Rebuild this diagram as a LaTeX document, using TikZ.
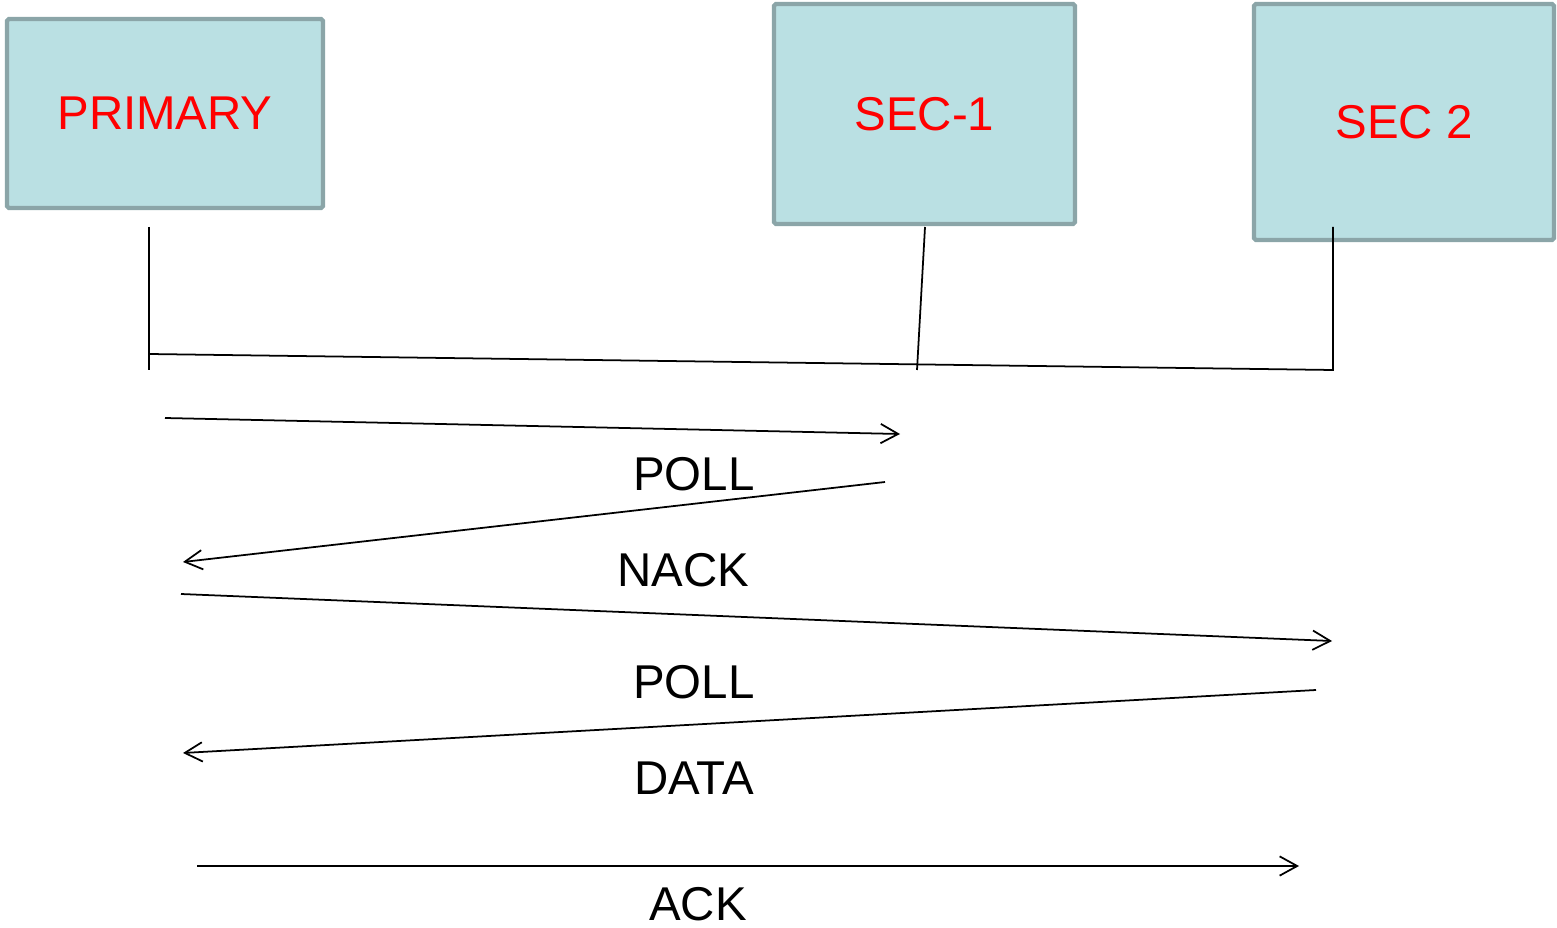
\documentclass[tikz,border=0pt]{standalone}
\usepackage{fontspec}
\setmainfont{Liberation Sans}
\usepackage{xcolor}
\usetikzlibrary{positioning,arrows.meta}
\definecolor{boxfill}{HTML}{BAE0E3}
\definecolor{boxline}{HTML}{8BA5A8}
\tikzset{
station/.style={draw=boxline, fill=boxfill, line width=2.4pt, rounded corners=1pt, text=red, font=\fontsize{27}{31}\selectfont},
wire/.style={line width=1pt},
msg/.style={line width=1pt, -{Straight Barb[length=10pt,width=11pt,line width=1pt]}},
frame/.style={font=\fontsize{27}{31}\selectfont}
}

\begin{document}
\begin{tikzpicture}[x=0.02cm, y=-0.02cm]
\useasboundingbox (0,0) rectangle (1557,928);

\node[station, minimum width=6.32cm, minimum height=3.78cm] (PRI) at (165,113.5) {PRIMARY};
\node[station, minimum width=6.02cm, minimum height=4.4cm] (S1) at (924.5,114) {SEC-1};
\node[station, minimum width=6.0cm, minimum height=4.72cm] (S2) at (1404,122) {SEC 2};

% drop lines and the shared bus
\coordinate (PRItop) at (149,227);
\coordinate (PRIbot) at (149,370);
\coordinate (busL) at (149,354);
\coordinate (S1top) at (925,227);
\coordinate (S1bot) at (917,370);
\coordinate (S2top) at (1333,227);
\coordinate (busR) at (1333,370);

\draw[wire] (PRItop) -- (PRIbot);
\draw[wire] (S1top) -- (S1bot);
\draw[wire] (busL) -- (busR) -- (S2top);

% message exchange
\coordinate (A1) at (165,418);
\coordinate (B1) at (900,434);
\coordinate (A2) at (885,482);
\coordinate (B2) at (183,562);
\coordinate (A3) at (181,594);
\coordinate (B3) at (1332,641);
\coordinate (A4) at (1316,690);
\coordinate (B4) at (183,753);
\coordinate (A5) at (197,866);
\coordinate (B5) at (1299,866);

\foreach \s/\e in {A1/B1, A2/B2, A3/B3, A4/B4, A5/B5}{
	\draw[msg] (\s) -- (\e);
}

\node[frame] (poll1) at (694,474) {POLL};
\node[frame] (nack) at (683,570) {NACK};
\node[frame] (poll2) at (694,682) {POLL};
\node[frame] (data) at (694,778) {DATA};
\node[frame] (ack) at (698,904) {ACK};
\end{tikzpicture}
\end{document}
